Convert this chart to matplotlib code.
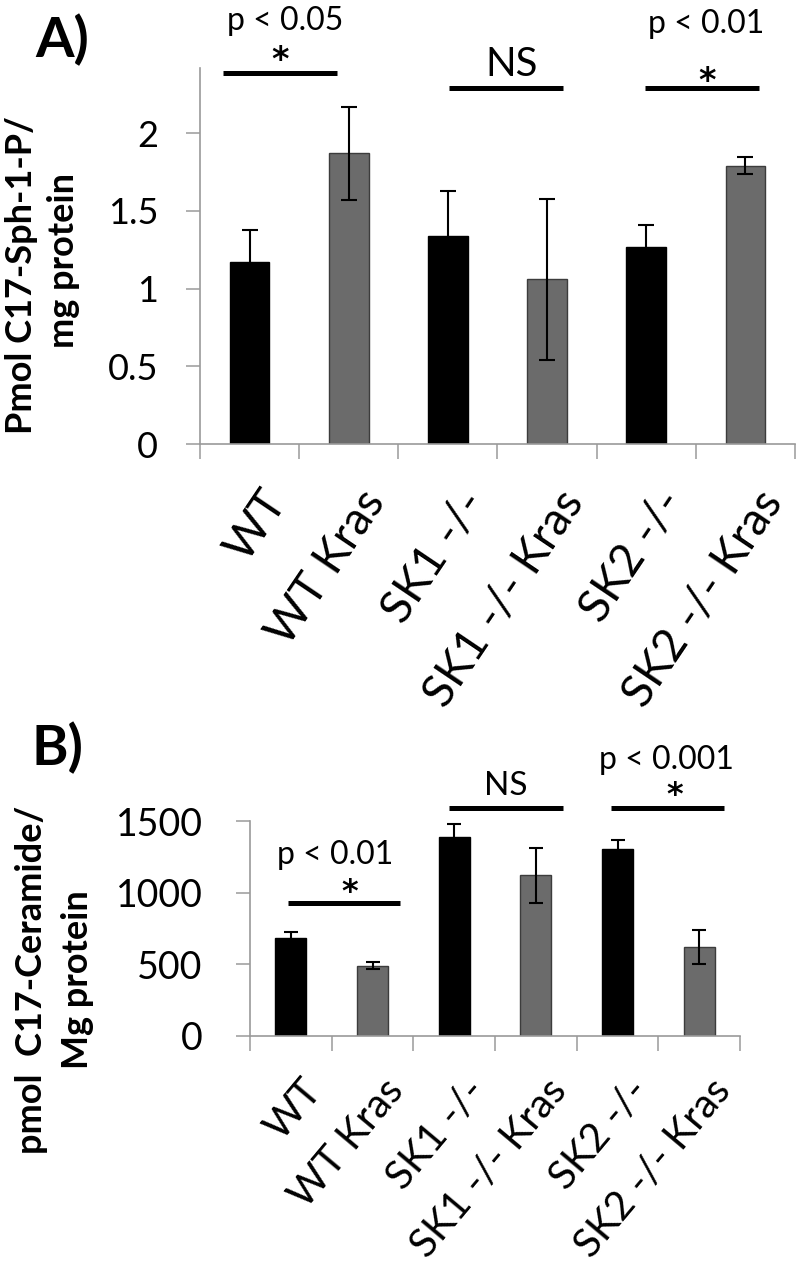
import numpy as np
import matplotlib.pyplot as plt
from matplotlib.transforms import ScaledTranslation

plt.rcParams['font.family'] = ['Lato', 'DejaVu Sans']

# ---- data ----
groups = ['WT', 'WT Kras', 'SK1 -/-', 'SK1 -/- Kras', 'SK2 -/-', 'SK2 -/- Kras']

s1p_mean = [1.17, 1.87, 1.34, 1.06, 1.27, 1.79]
s1p_err = [0.21, 0.30, 0.29, 0.52, 0.14, 0.055]

cer_mean = [685, 490, 1385, 1120, 1308, 622]
cer_err = [42, 26, 95, 195, 62, 118]

bar_colors = ['#000000', '#6b6b6b'] * 3
edge_colors = ['#000000', '#3c3c3c'] * 3

W, H = 800, 1272
fig = plt.figure(figsize=(W / 100, H / 100), dpi=100)


def px_box(x0, y0, x1, y1):
    # pixel box (top-left origin) -> figure fraction rect
    return [x0 / W, 1 - y1 / H, (x1 - x0) / W, (y1 - y0) / H]


def fx(x):
    return x / W


def fy(y):
    return 1 - y / H


AX_GRAY = '#9a9a9a'


def style_axes(ax, ymax, yticks, ytick_fs, ypad, xtick_fs, xrot, label_pad):
    x = np.arange(len(groups))
    ax.set_xlim(-0.5, len(groups) - 0.5)
    ax.set_ylim(0, ymax)
    for s in ['top', 'right']:
        ax.spines[s].set_visible(False)
    for s in ['left', 'bottom']:
        ax.spines[s].set_color(AX_GRAY)
        ax.spines[s].set_linewidth(1.2)
    ax.set_yticks(yticks)
    ax.tick_params(axis='y', length=10, width=1.1, color=AX_GRAY,
                   labelsize=ytick_fs, pad=ypad)
    ax.set_xticks(np.arange(-0.5, len(groups), 1.0), minor=True)
    ax.tick_params(axis='x', which='minor', length=11, width=1.1, color=AX_GRAY)
    ax.set_xticks(x)
    ax.set_xticklabels(groups, rotation=xrot, ha='right', va='top',
                       rotation_mode='anchor', fontsize=xtick_fs)
    ax.tick_params(axis='x', which='major', length=0, pad=label_pad)
    off = ScaledTranslation(10 / 100, 0, fig.dpi_scale_trans)
    for lab in ax.get_xticklabels():
        lab.set_transform(lab.get_transform() + off)


def sig_line(ax, x0, x1, y):
    ax.plot([x0, x1], [y, y], color='black', lw=3.6, clip_on=False,
            solid_capstyle='butt')


def star(ax, x, y, fs=24):
    ax.text(x, y, '*', ha='center', va='baseline', fontsize=fs,
            fontweight='bold', family='DejaVu Sans', clip_on=False)


# ---- panel A ----
axA = fig.add_axes(px_box(200, 68, 795, 444))
xA = np.arange(len(groups))
axA.bar(xA, s1p_mean, width=0.4, color=bar_colors, edgecolor=edge_colors,
        linewidth=1.0, zorder=2)
axA.errorbar(xA, s1p_mean, yerr=s1p_err, fmt='none', ecolor='black',
             elinewidth=1.5, capsize=5.5, capthick=1.5, zorder=3)
style_axes(axA, 2.42, [0, 0.5, 1, 1.5, 2], 26, 20, 33, 56, 28)
axA.set_yticklabels(['0', '0.5', '1', '1.5', '2'])

sig_line(axA, -0.27, 0.88, 2.39)
star(axA, 0.31, 2.41)
axA.text(0.36, 2.72, 'p < 0.05', ha='center', va='center', fontsize=23)
sig_line(axA, 2.01, 3.16, 2.29)
axA.text(2.64, 2.44, 'NS', ha='center', va='center', fontsize=29)
sig_line(axA, 3.99, 5.14, 2.29)
star(axA, 4.61, 2.27)
axA.text(4.60, 2.70, 'p < 0.01', ha='center', va='center', fontsize=23)

fig.text(fx(62), fy(40), 'A)', ha='center', va='center', fontsize=40,
         fontweight='bold')
fig.text(fx(22), fy(275), 'Pmol C17-Sph-1-P/', rotation=90, ha='center',
         va='center', fontsize=26, fontweight='bold')
fig.text(fx(63), fy(260), 'mg protein', rotation=90, ha='center',
         va='center', fontsize=26, fontweight='bold')

# ---- panel B ----
axB = fig.add_axes(px_box(250, 821, 740, 1036))
xB = np.arange(len(groups))
axB.bar(xB, cer_mean, width=0.38, color=bar_colors, edgecolor=edge_colors,
        linewidth=1.0, zorder=2)
axB.errorbar(xB, cer_mean, yerr=cer_err, fmt='none', ecolor='black',
             elinewidth=1.5, capsize=5, capthick=1.5, zorder=3)
style_axes(axB, 1500, [0, 500, 1000, 1500], 27, 24, 29, 50, 26)

sig_line(axB, -0.03, 1.34, 930)
star(axB, 0.72, 944, 23)
axB.text(0.54, 1262, 'p < 0.01', ha='center', va='center', fontsize=23)
sig_line(axB, 1.94, 3.33, 1594)
axB.text(2.63, 1741, 'NS', ha='center', va='center', fontsize=24)
sig_line(axB, 3.92, 5.30, 1594)
star(axB, 4.70, 1622, 23)
axB.text(4.60, 1925, 'p < 0.001', ha='center', va='center', fontsize=23)

fig.text(fx(57), fy(748), 'B)', ha='center', va='center', fontsize=40,
         fontweight='bold')
fig.text(fx(32), fy(980), 'pmol  C17-Ceramide/', rotation=90, ha='center',
         va='center', fontsize=26, fontweight='bold')
fig.text(fx(77), fy(980), 'Mg protein', rotation=90, ha='center',
         va='center', fontsize=26, fontweight='bold')

fig.savefig('out.png', dpi=100)
